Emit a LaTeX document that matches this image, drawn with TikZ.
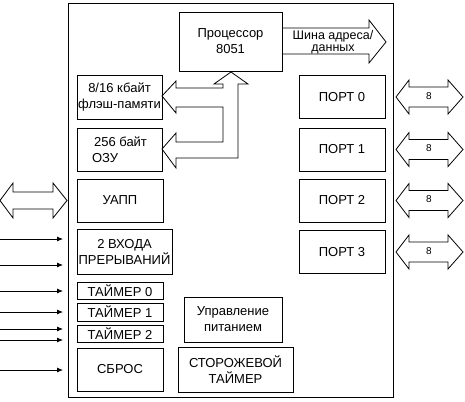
\documentclass[tikz,border=0pt]{standalone}
\usepackage{fontspec}
\setmainfont{Liberation Sans}
\usetikzlibrary{arrows.meta}
\tikzset{
  blk/.style 2 args={draw, minimum width=#1pt, minimum height=#2pt, inner sep=0pt,
    align=center, font=\fontsize{13}{16}\selectfont},
  bw/.style={font=\fontsize{10}{10}\selectfont, inner sep=0pt}
}
\begin{document}
\begin{tikzpicture}[x=1pt,y=-1pt,line width=0.8pt]
\useasboundingbox (0,0) rectangle (465,401);
\node[blk={325}{394}] (chip) at (230.5,200) {};
\node[blk={103}{59}] (cpu) at (230.5,41.5) {Процессор\\8051};
\node[blk={85}{44}] (flash) at (119.5,97) {8/16 кбайт\\флэш-памяти};
\node[blk={85}{43}, align=left] (ram) at (119.5,149.5) {\hspace*{2pt}256 байт\\ОЗУ};
\node[blk={86}{43}] (uart) at (120,200.5) {УАПП};
\node[blk={95}{45}] (irq) at (124.5,251.5) {2 ВХОДА\\ПРЕРЫВАНИЙ};
\node[blk={86}{17}] (tmA) at (120,290.5) {ТАЙМЕР 0};
\node[blk={86}{18}] (tmB) at (120,312) {ТАЙМЕР 1};
\node[blk={86}{17}] (tmC) at (120,333.5) {ТАЙМЕР 2};
\node[blk={86}{43}] (rst) at (120,369.5) {СБРОС};
\node[blk={98}{45}] (pwr) at (233,319.5) {Управление\\питанием};
\node[blk={115}{45}] (wdt) at (235.5,369.5) {СТОРОЖЕВОЙ\\ТАЙМЕР};
\foreach \n/\y in {0/97,1/149.5,2/200.5,3/252}{
  \node[blk={86}{43}] (port\n) at (342,\y) {ПОРТ \n};
  \draw (396,\y)--(409,\y-17)--(409,\y-10)--(448,\y-10)--(448,\y-17)--(463,\y)
    --(448,\y+17)--(448,\y+10)--(409,\y+10)--(409,\y+17)--cycle;
  \node[bw] (w\n) at (429,\y-1) {8};
}
% address/data bus
\draw (cpu.east |- 0,28)--(369,28)--(369,20)--(386,42)--(369,63)--(369,54)--(cpu.east |- 0,54);
\node[font=\fontsize{12.5}{11.5}\selectfont, align=center, inner sep=0pt] (bus) at (333,42) {Шина адреса/\\данных};
% internal bus
\draw (231,72)--(248,84)--(238,84)--(238,158)--(176,158)--(176,168)--(162,149)--(176,133)
  --(176,142)--(223,142)--(223,107)--(176,107)--(176,113)--(162,96)--(176,81)--(176,88)
  --(223,88)--(223,84)--(214,84)--cycle;
% serial port
\draw (0,200.5)--(13,183)--(13,192)--(53,192)--(53,183)--(67,200.5)--(53,218)--(53,209)
  --(13,209)--(13,218)--cycle;
% inputs
\foreach \y [count=\i] in {239,265,291,312,329,340,370}{
  \coordinate (in\i) at (0,\y);
  \draw[-{Latex[length=6pt,width=5pt]}] (in\i) -- ++(63,0);
}
\end{tikzpicture}
\end{document}
